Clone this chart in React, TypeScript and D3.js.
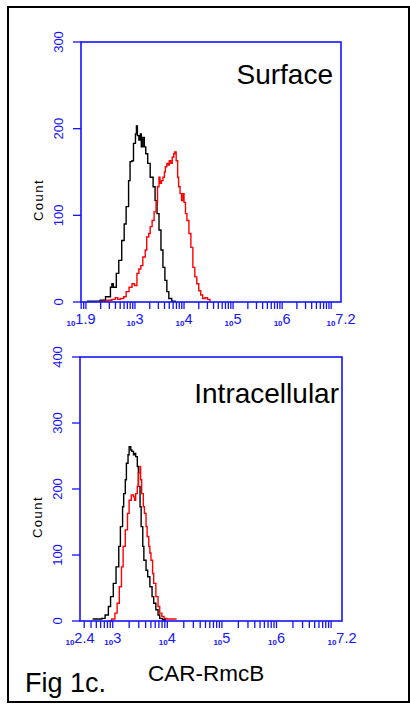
import React from "react";
import * as d3 from "d3";

// ---- Data (x in log10 units, y = count) ----
const surfBlackLog = [2.02, 2.19, 2.29, 2.40, 2.50, 2.53, 2.56, 2.62, 2.67, 2.73, 2.78, 2.82, 2.87, 2.90, 2.94, 2.97, 3.01, 3.03, 3.05, 3.08, 3.11, 3.13, 3.16, 3.19, 3.22, 3.26, 3.31, 3.37, 3.41, 3.45, 3.49, 3.53, 3.57, 3.61, 3.65, 3.69, 3.75, 3.82];
const surfBlackCount = [1, 1, 2, 6, 17, 21, 17, 33, 48, 71, 90, 110, 140, 162, 163, 183, 194, 203, 192, 187, 194, 179, 190, 179, 171, 160, 144, 133, 117, 102, 83, 60, 40, 25, 12, 4, 1, 0];
const surfRedLog = [2.29, 2.43, 2.53, 2.60, 2.65, 2.70, 2.77, 2.82, 2.88, 2.94, 2.99, 3.04, 3.08, 3.12, 3.16, 3.21, 3.24, 3.28, 3.31, 3.35, 3.39, 3.43, 3.46, 3.49, 3.51, 3.54, 3.57, 3.60, 3.62, 3.65, 3.68, 3.70, 3.73, 3.76, 3.79, 3.81, 3.84, 3.87, 3.89, 3.92, 3.95, 3.98, 4.00, 4.03, 4.06, 4.10, 4.14, 4.18, 4.22, 4.26, 4.30, 4.34, 4.38, 4.43, 4.48, 4.53];
const surfRedCount = [1, 2, 3, 5, 3, 4, 6, 12, 17, 21, 19, 33, 38, 42, 52, 60, 75, 79, 87, 94, 104, 115, 133, 144, 137, 140, 144, 150, 156, 160, 158, 163, 160, 167, 171, 173, 163, 144, 133, 125, 117, 125, 115, 102, 94, 79, 63, 40, 29, 21, 13, 8, 4, 5, 3, 0];

const intraBlackLog = [2.63, 2.80, 2.86, 2.92, 2.96, 3.01, 3.06, 3.11, 3.14, 3.18, 3.20, 3.23, 3.25, 3.28, 3.30, 3.33, 3.35, 3.38, 3.40, 3.42, 3.45, 3.47, 3.50, 3.52, 3.55, 3.57, 3.61, 3.64, 3.68, 3.72, 3.75, 3.79, 3.83, 3.86, 3.91, 3.96];
const intraBlackCount = [3, 4, 9, 22, 37, 57, 82, 113, 143, 173, 193, 214, 239, 252, 264, 259, 257, 252, 254, 249, 234, 204, 173, 143, 113, 92, 77, 67, 52, 37, 27, 17, 9, 4, 2, 0];
const intraRedLog = [2.92, 2.98, 3.04, 3.08, 3.12, 3.16, 3.19, 3.23, 3.27, 3.30, 3.34, 3.38, 3.40, 3.42, 3.45, 3.47, 3.50, 3.51, 3.53, 3.56, 3.58, 3.61, 3.63, 3.66, 3.68, 3.70, 3.73, 3.75, 3.79, 3.83, 3.86, 3.90, 3.94, 3.99, 4.08, 4.17];
const intraRedCount = [0, 3, 12, 27, 52, 82, 113, 138, 163, 183, 191, 188, 183, 193, 204, 224, 234, 214, 193, 173, 163, 143, 128, 113, 103, 92, 72, 57, 37, 22, 12, 7, 4, 3, 3, 3];

const surfYTicks = [0, 100, 200, 300];
const intraYTicks = [0, 100, 200, 300, 400];
const surfXLabels = [1.9, 3, 4, 5, 6, 7.2];
const intraXLabels = [2.4, 3, 4, 5, 6, 7.2];

const BLUE = "#1414ff";
const FONT = "'Liberation Sans', Arial, sans-serif";

type Series = { log: number[]; count: number[]; color: string };

function Panel(props: {
  x0: number; x1: number; y0: number; y1: number;
  xMinExp: number; xMaxExp: number; yMax: number;
  yTicks: number[]; xLabels: number[];
  title: string; titleX: number; titleY: number;
  series: Series[];
}) {
  const { x0, x1, y0, y1, xMinExp, xMaxExp, yMax, yTicks, xLabels, title, titleX, titleY, series } = props;
  const x = d3.scaleLog().domain([Math.pow(10, xMinExp), Math.pow(10, xMaxExp)]).range([x0, x1]);
  const y = d3.scaleLinear().domain([0, yMax]).range([y1, y0]);

  const minor: number[] = [];
  for (let e = Math.floor(xMinExp); e <= Math.ceil(xMaxExp); e++) {
    for (let k = 1; k <= 9; k++) {
      const v = k * Math.pow(10, e);
      const lv = Math.log10(v);
      if (lv >= xMinExp - 1e-9 && lv <= xMaxExp + 1e-9) minor.push(v);
    }
  }

  const line = d3.line<[number, number]>()
    .x((d) => x(Math.pow(10, d[0])))
    .y((d) => y(d[1]))
    .curve(d3.curveStepAfter);

  return (
    <g>
      {series.map((s, i) => (
        <path key={i} d={line(s.log.map((l, j) => [l, s.count[j]] as [number, number])) || ""}
          fill="none" stroke={s.color} strokeWidth={1.4} />
      ))}
      <rect x={x0} y={y0} width={x1 - x0} height={y1 - y0} fill="none" stroke={BLUE} strokeWidth={1.6} />
      {minor.map((v, i) => (
        <line key={i} x1={x(v)} x2={x(v)} y1={y1} y2={y1 + 7} stroke={BLUE} strokeWidth={1.3} />
      ))}
      {yTicks.map((t) => (
        <g key={t}>
          <line x1={x0 - 8} x2={x0} y1={y(t)} y2={y(t)} stroke={BLUE} strokeWidth={1.3} />
          <text transform={`translate(${x0 - 18},${y(t)}) rotate(-90)`} textAnchor="middle"
            fill={BLUE} fontFamily={FONT} fontSize={13}>{t}</text>
        </g>
      ))}
      {xLabels.map((e) => (
        <text key={e} x={x(Math.pow(10, e))} y={y1 + 22} textAnchor="middle" fill={BLUE} fontFamily={FONT}>
          <tspan fontSize={8} fontWeight="bold" dy={2}>10</tspan>
          <tspan fontSize={14.5} dy={-2}>{String(e)}</tspan>
        </text>
      ))}
      <text transform={`translate(${x0 - 38},${(y0 + y1) / 2 + 28}) rotate(-90)`} textAnchor="middle"
        fill="#000" fontFamily={FONT} fontSize={13} letterSpacing={1.5}>Count</text>
      <text x={titleX} y={titleY} textAnchor="end" fill="#000" fontFamily={FONT} fontSize={28}>{title}</text>
    </g>
  );
}

export default function App() {
  return (
    <svg width={410} height={705} style={{ position: "absolute", left: 0, top: 0, background: "#fff" }}>
      <rect x={8} y={7} width={401} height={695} fill="#fff" stroke="#000" strokeWidth={2} />
      <Panel x0={81} x1={341} y0={42} y1={302} xMinExp={1.9} xMaxExp={7.2} yMax={300}
        yTicks={surfYTicks} xLabels={surfXLabels} title="Surface" titleX={333} titleY={84}
        series={[
          { log: surfBlackLog, count: surfBlackCount, color: "#000" },
          { log: surfRedLog, count: surfRedCount, color: "#ff0000" },
        ]} />
      <Panel x0={80} x1={342} y0={357} y1={621} xMinExp={2.4} xMaxExp={7.2} yMax={400}
        yTicks={intraYTicks} xLabels={intraXLabels} title="Intracellular" titleX={339} titleY={403}
        series={[
          { log: intraBlackLog, count: intraBlackCount, color: "#000" },
          { log: intraRedLog, count: intraRedCount, color: "#ff0000" },
        ]} />
      <text x={25} y={692} fontFamily={FONT} fontSize={27} fill="#000">Fig 1c.</text>
      <text x={148} y={681} fontFamily={FONT} fontSize={22.5} fill="#000">CAR-RmcB</text>
    </svg>
  );
}
